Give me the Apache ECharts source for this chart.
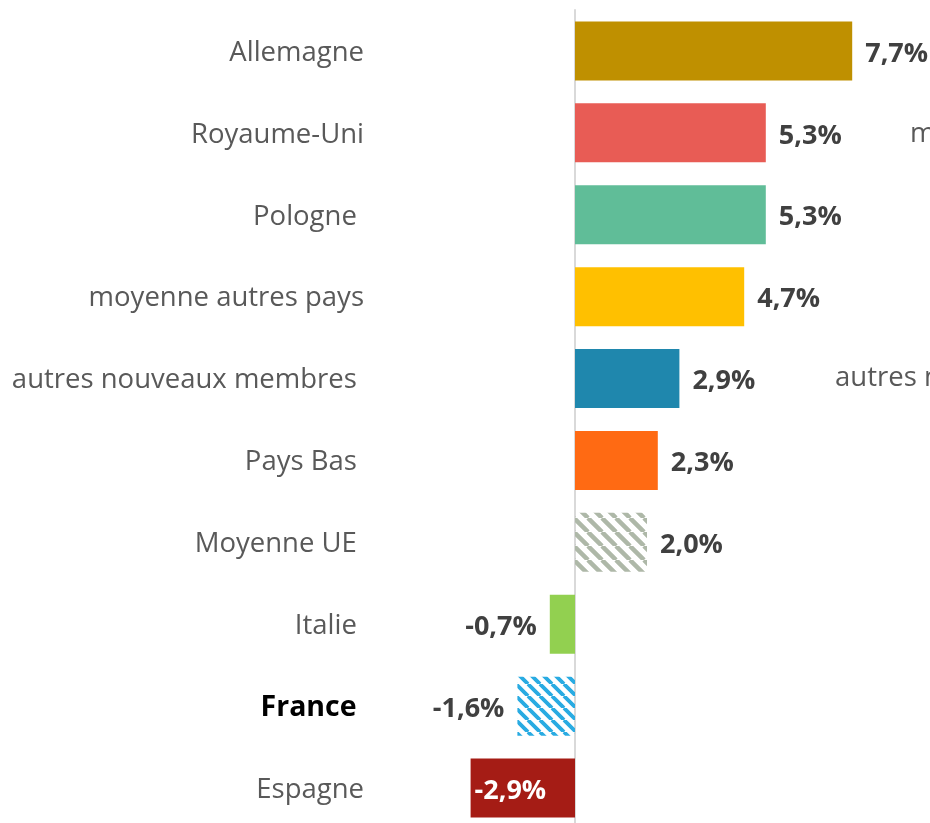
<!DOCTYPE html>
<html>
<head>
<meta charset="utf-8">
<script src="https://cdn.jsdelivr.net/npm/echarts@6/dist/echarts.min.js"></script>
<style>
  html, body { margin: 0; padding: 0; background: #fff; }
  #chart { width: 930px; height: 823px; }
</style>
</head>
<body>
<div id="chart"></div>
<script>
// pays, du haut vers le bas
const countries = ['Allemagne', 'Royaume-Uni', 'Pologne ', 'moyenne autres pays', 'autres nouveaux membres ',
  'Pays Bas ', 'Moyenne UE ', 'Italie ', 'France ', 'Espagne']
const values = [7.7, 5.3, 5.3, 4.7, 2.9, 2.3, 2.0, -0.7, -1.6, -2.9]
const barColors = ['#BF9000', '#E85C55', '#60BD98', '#FFC000', '#1F87AD', '#FF6A13', 'hatch:#AEB8A8', '#92D050', 'hatch:#29ABE2', '#A51C15']

function hatch(color, step) { // motif rayé pour Moyenne UE et France
  const c = document.createElement('canvas')
  c.width = step
  c.height = step
  const ctx = c.getContext('2d')
  ctx.strokeStyle = color
  ctx.lineWidth = step * 0.32
  ctx.beginPath()
  for (let k = -1; k <= 1; k++) {
    ctx.moveTo(k * step, 0)
    ctx.lineTo(k * step + step, step)
  }
  ctx.stroke()
  return { image: c, repeat: 'repeat' }
}

function fmt(v) {
  return v.toFixed(1).replace('.', ',') + '%'
}

const seriesData = values.map((v, i) => {
  const col = barColors[i]
  const item = {
    value: v,
    itemStyle: {
      color: col.indexOf('hatch:') === 0 ? hatch(col.slice(6), i === 8 ? 12 : 14) : col
    },
    label: { position: v >= 0 ? 'right' : 'left' }
  }
  if (i === values.length - 1) {
    item.label = { position: 'insideLeft', distance: 4, color: '#fff' }
  }
  return item
})

const chart = echarts.init(document.getElementById('chart'))
chart.setOption({
  animation: false,
  backgroundColor: '#fff',
  grid: { left: 467, right: 31, top: 10, bottom: -6, containLabel: false, outerBoundsMode: 'none' },
  xAxis: {
    type: 'value',
    min: -3,
    max: 9,
    show: false
  },
  yAxis: {
    type: 'category',
    inverse: true,
    data: countries,
    axisLine: { onZero: true, lineStyle: { color: '#D9D9D9', width: 2 } },
    axisTick: { show: false },
    axisLabel: {
      margin: 103,
      padding: [4, 0, 0, 0],
      fontFamily: 'Open Sans',
      fontSize: 27.5,
      color: '#595959',
      formatter(v) {
        return v.trim() === 'France' ? '{b|' + v + '}' : v
      },
      rich: {
        b: { fontFamily: 'Open Sans', fontSize: 28.5, fontWeight: 'bold', color: '#000' }
      }
    }
  },
  series: [{
    type: 'bar',
    barCategoryGap: '28%',
    data: seriesData,
    label: {
      show: true,
      distance: 13,
      offset: [0, 3],
      fontFamily: 'Open Sans',
      fontSize: 27,
      fontWeight: 'bold',
      color: '#404040',
      formatter(p) {
        return fmt(p.value)
      }
    }
  }],
  graphic: [
    { type: 'text', left: 910, top: 120, style: { text: 'moyenne autres pays', fontFamily: 'Open Sans', fontSize: 27.5, fill: '#595959' } },
    { type: 'text', left: 835, top: 364, style: { text: 'autres nouveaux membres', fontFamily: 'Open Sans', fontSize: 27.5, fill: '#595959' } }
  ]
})
</script>
</body>
</html>
